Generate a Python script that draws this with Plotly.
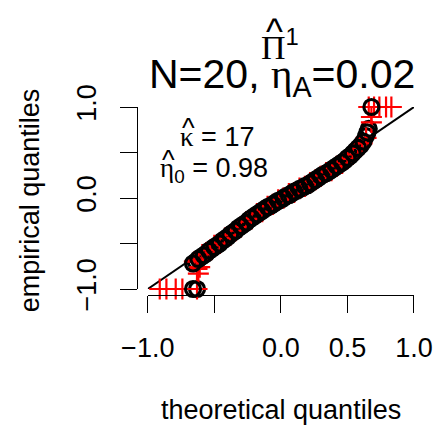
import plotly.graph_objects as go

# ---- data ----
black_x = [-0.66, -0.64, -0.62, -0.60, -0.58, -0.56, -0.54, -0.52, -0.50, -0.48,
           -0.46, -0.44, -0.42, -0.40, -0.38, -0.36, -0.34, -0.32, -0.30, -0.28,
           -0.26, -0.24, -0.22, -0.20, -0.18, -0.16, -0.14, -0.12, -0.10, -0.08,
           -0.06, -0.04, -0.02, 0.00, 0.02, 0.04, 0.06, 0.08, 0.10, 0.12,
           0.14, 0.16, 0.18, 0.20, 0.22, 0.24, 0.26, 0.28, 0.30, 0.32,
           0.34, 0.36, 0.38, 0.40, 0.42, 0.44, 0.46, 0.48, 0.50, 0.52,
           0.54, 0.56, 0.58, 0.60, 0.62, 0.64, 0.65, 0.66,
           -0.66, -0.63, 0.68]
black_y = [-0.72, -0.70, -0.67, -0.65, -0.63, -0.61, -0.58, -0.56, -0.54, -0.52,
           -0.50, -0.47, -0.45, -0.43, -0.40, -0.38, -0.36, -0.33, -0.31, -0.29,
           -0.27, -0.24, -0.22, -0.20, -0.18, -0.16, -0.14, -0.12, -0.10, -0.09,
           -0.07, -0.05, -0.03, -0.02, 0.00, 0.02, 0.03, 0.05, 0.07, 0.08,
           0.10, 0.11, 0.13, 0.14, 0.16, 0.18, 0.20, 0.22, 0.24, 0.26,
           0.27, 0.29, 0.31, 0.33, 0.35, 0.37, 0.39, 0.41, 0.44, 0.46,
           0.49, 0.52, 0.55, 0.58, 0.62, 0.68, 0.72, 0.76,
           -1.00, -1.00, 1.00]

red_x = [-0.65, -0.62, -0.59, -0.56, -0.53, -0.50, -0.46, -0.42, -0.38, -0.34,
         -0.30, -0.26, -0.22, -0.18, -0.14, -0.10, -0.06, -0.02, 0.02, 0.06,
         0.10, 0.14, 0.18, 0.22, 0.26, 0.30, 0.34, 0.38, 0.42, 0.46,
         0.50, 0.54, 0.58, 0.61, 0.64,
         -0.91, -0.86, -0.79, -0.74, -0.63, -0.62, -0.63, -0.61,
         0.68, 0.68, 0.66, 0.70, 0.74, 0.79, 0.83]
red_y = [-0.70, -0.68, -0.62, -0.60, -0.57, -0.52, -0.50, -0.44, -0.41, -0.36,
         -0.32, -0.26, -0.23, -0.17, -0.15, -0.09, -0.07, -0.02, 0.00, 0.05,
         0.06, 0.11, 0.13, 0.17, 0.20, 0.24, 0.28, 0.30, 0.35, 0.38,
         0.43, 0.48, 0.55, 0.60, 0.66,
         -1.00, -1.00, -1.00, -1.00, -1.00, -0.83, -0.78, -0.76,
         0.83, 0.89, 1.00, 1.00, 1.00, 1.00, 1.00]

ref_x = [-1.0, 1.0]
ref_y = [-1.0, 1.0]

x_ticks = [-1.0, -0.5, 0.0, 0.5, 1.0]
x_ticktext = ["\u22121.0", "", "0.0", "0.5", "1.0"]
y_ticks = [-1.0, -0.5, 0.0, 0.5, 1.0]
y_ticktext = ["\u22121.0", "", "0.0", "", "1.0"]

FONT = "Liberation Sans, Arial, sans-serif"
SERIF = "Liberation Serif, DejaVu Serif, serif"

black_marker = dict(symbol="circle-open", size=15, color="black",
                    line=dict(width=3.2, color="black"))

fig = go.Figure()
fig.add_trace(go.Scatter(x=ref_x, y=ref_y, mode="lines",
                         line=dict(color="black", width=2), showlegend=False,
                         hoverinfo="skip"))
# black circles are interleaved with the red crosses (half below, half above)
fig.add_trace(go.Scatter(x=black_x[1::2], y=black_y[1::2], mode="markers",
                         cliponaxis=False, marker=black_marker, showlegend=False))
fig.add_trace(go.Scatter(x=red_x, y=red_y, mode="markers", cliponaxis=False,
                         marker=dict(symbol="cross-thin-open", size=15, color="red",
                                     line=dict(width=2.2, color="red")),
                         showlegend=False))
fig.add_trace(go.Scatter(x=black_x[0::2], y=black_y[0::2], mode="markers",
                         cliponaxis=False, marker=black_marker, showlegend=False))

W, H = 445, 430
L, R, T, B = 137, 25, 107, 135
pw, ph = W - L - R, H - T - B

fig.update_layout(
    width=W, height=H,
    margin=dict(l=L, r=R, t=T, b=B, pad=0),
    paper_bgcolor="white", plot_bgcolor="white",
    font=dict(family=FONT, color="black", size=27),
    xaxis=dict(domain=[11 / pw, 1], range=[-1, 1], anchor="free", position=0,
               showline=True, linecolor="black", linewidth=1.3,
               ticks="outside", ticklen=17, tickwidth=1.3, tickcolor="black",
               tickvals=x_ticks, ticktext=x_ticktext, showgrid=False, zeroline=False,
               tickfont=dict(size=27, family=FONT), ticklabelstandoff=11),
    yaxis=dict(domain=[6 / ph, 1], range=[-1, 1], anchor="free", position=0,
               showline=True, linecolor="black", linewidth=1.3,
               ticks="outside", ticklen=17, tickwidth=1.3, tickcolor="black",
               tickvals=y_ticks, ticktext=y_ticktext, showgrid=False, zeroline=False,
               tickangle=-90, tickfont=dict(size=27, family=FONT), ticklabelstandoff=13),
)

def px2paper_x(px):
    return (px - L) / pw

def px2paper_y(py):
    return (H - B - py) / ph

annots = [
    dict(text="empirical quantiles", x=px2paper_x(28), y=px2paper_y(200), textangle=-90),
    dict(text="theoretical quantiles", x=px2paper_x(284), y=px2paper_y(410)),
    dict(text="N=20, <span style='font-family:%s'>\u03b7</span><sub>A</sub>=0.02" % SERIF,
         x=px2paper_x(285), y=px2paper_y(77), font=dict(size=41)),
    dict(text="<span style='font-family:%s'>\u03a0</span><sup>1</sup>" % SERIF,
         x=px2paper_x(283), y=px2paper_y(44), font=dict(size=34)),
    dict(text="^", x=px2paper_x(277), y=px2paper_y(32), font=dict(size=36)),
    dict(text="<span style='font-family:%s'>\u03ba</span> = 17" % SERIF,
         x=px2paper_x(219), y=px2paper_y(137)),
    dict(text="^", x=px2paper_x(190), y=px2paper_y(128), font=dict(size=27)),
    dict(text="<span style='font-family:%s'>\u03b7</span><sub>0</sub> = 0.98" % SERIF,
         x=px2paper_x(216), y=px2paper_y(170)),
    dict(text="^", x=px2paper_x(169), y=px2paper_y(160), font=dict(size=27)),
]
for a in annots:
    a.setdefault("font", dict(size=27))
    a["font"].setdefault("family", FONT)
    a["font"].setdefault("color", "black")
    fig.add_annotation(xref="paper", yref="paper", showarrow=False,
                       xanchor="center", yanchor="middle", **a)

fig.write_html("out.html")
